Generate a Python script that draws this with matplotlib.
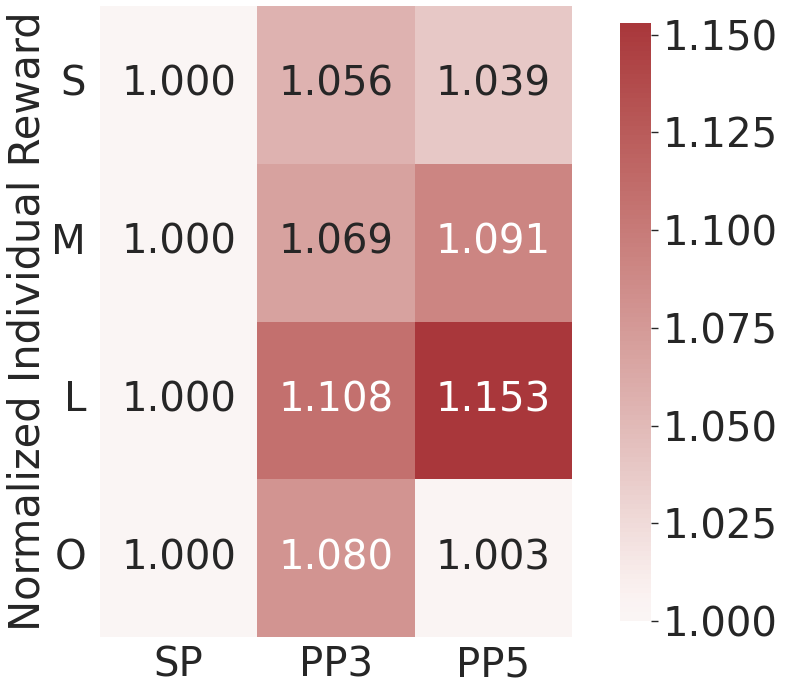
import numpy as np
import matplotlib
matplotlib.use("Agg")
import matplotlib.pyplot as plt
import seaborn as sns

rows = ["S", "M", "L", "O"]
cols = ["SP", "PP3", "PP5"]
values = np.array([
    [1.000, 1.056, 1.039],
    [1.000, 1.069, 1.091],
    [1.000, 1.108, 1.153],
    [1.000, 1.080, 1.003],
])
cbar_ticks = [1.000, 1.025, 1.050, 1.075, 1.100, 1.125, 1.150]

sns.set_theme(style="white")
plt.rcParams['font.family'] = ['DejaVu Sans']
fs = 29

fig = plt.figure(figsize=(7.89, 6.97), dpi=100)
W, H = 789, 697
ax = fig.add_axes([100/W, 1-637/H, 472/W, 631/H])
cax = fig.add_axes([620/W, 1-621/H, 31/W, 598/H])

sns.heatmap(values, ax=ax, cbar_ax=cax, cmap="vlag", center=1.0,
            annot=True, fmt=".3f", annot_kws={"size": fs},
            xticklabels=cols, yticklabels=rows)
ax.tick_params(axis="y", labelsize=fs, length=0, pad=10)
ax.tick_params(axis="x", labelsize=fs, length=0, pad=6)
ax.set_yticklabels(rows, rotation=0)
ax.set_ylabel("Normalized Individual Reward", fontsize=30, labelpad=2)

cax.set_yticks(cbar_ticks)
cax.set_yticklabels([f"{t:.3f}" for t in cbar_ticks])
cax.tick_params(axis="y", labelsize=fs, right=True, length=5, width=1, color="#262626")
for s in cax.spines.values():
    s.set_visible(False)

fig.savefig("out.png", dpi=100)
